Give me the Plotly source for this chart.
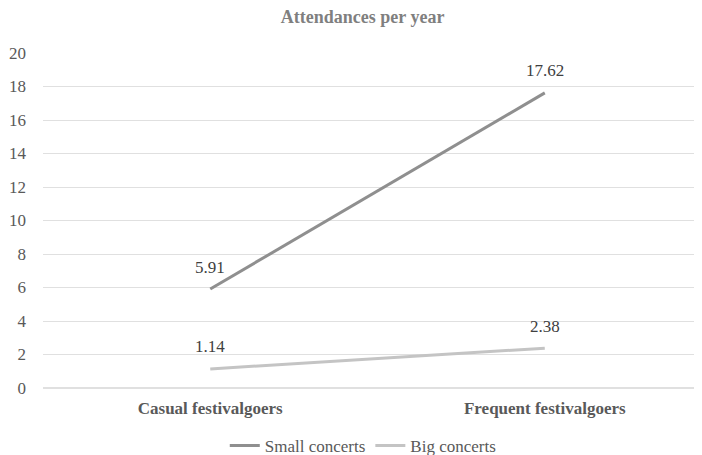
import plotly.graph_objects as go

categories = ["Casual festivalgoers", "Frequent festivalgoers"]
small_concerts = [5.91, 17.62]
big_concerts = [1.14, 2.38]
series_names = ["Small concerts", "Big concerts"]
y_ticks = [0, 2, 4, 6, 8, 10, 12, 14, 16, 18, 20]

FONT = "Liberation Serif, DejaVu Serif"

fig = go.Figure()
fig.add_trace(go.Scatter(
    x=categories, y=small_concerts, name=series_names[0], mode="lines",
    line=dict(color="#8f8f8f", width=3),
))
fig.add_trace(go.Scatter(
    x=categories, y=big_concerts, name=series_names[1], mode="lines",
    line=dict(color="#c4c4c4", width=3),
))

annotations = []
for series in (small_concerts, big_concerts):
    for c, v in zip(categories, series):
        annotations.append(dict(
            x=c, y=v, xref="x", yref="y", text=f"{v:.2f}", showarrow=False,
            yshift=22, font=dict(family=FONT, size=17, color="#404040"),
        ))

fig.update_layout(
    width=694, height=447,
    paper_bgcolor="white", plot_bgcolor="white",
    margin=dict(l=35, r=0, t=45, b=67, autoexpand=False),
    font=dict(family=FONT, size=17, color="#595959"),
    title=dict(text="<b>Attendances per year</b>", x=0.511, xanchor="center",
               y=1 - 9 / 447, yref="container", yanchor="middle",
               font=dict(family=FONT, size=18, color="#7f7f7f")),
    xaxis=dict(type="category", range=[-0.5, 1.47], showgrid=False, showline=False,
               ticks="", tickfont=dict(family=FONT, size=17, color="#595959"),
               ticklabelstandoff=8, tickprefix="<b>", ticksuffix="</b>"),
    yaxis=dict(range=[0, 20], tickvals=y_ticks, showgrid=True, gridcolor="#e0e0e0",
               gridwidth=1, zeroline=True, zerolinecolor="#e0e0e0", ticks="",
               ticklabelstandoff=16,
               tickfont=dict(family=FONT, size=17, color="#595959")),
    annotations=annotations,
    showlegend=True,
    legend=dict(orientation="h", x=0.486, xanchor="center", y=-0.173, yanchor="middle",
                font=dict(family=FONT, size=17, color="#595959"), itemwidth=30,
                tracegroupgap=0),
)

fig.write_html("out.html")
